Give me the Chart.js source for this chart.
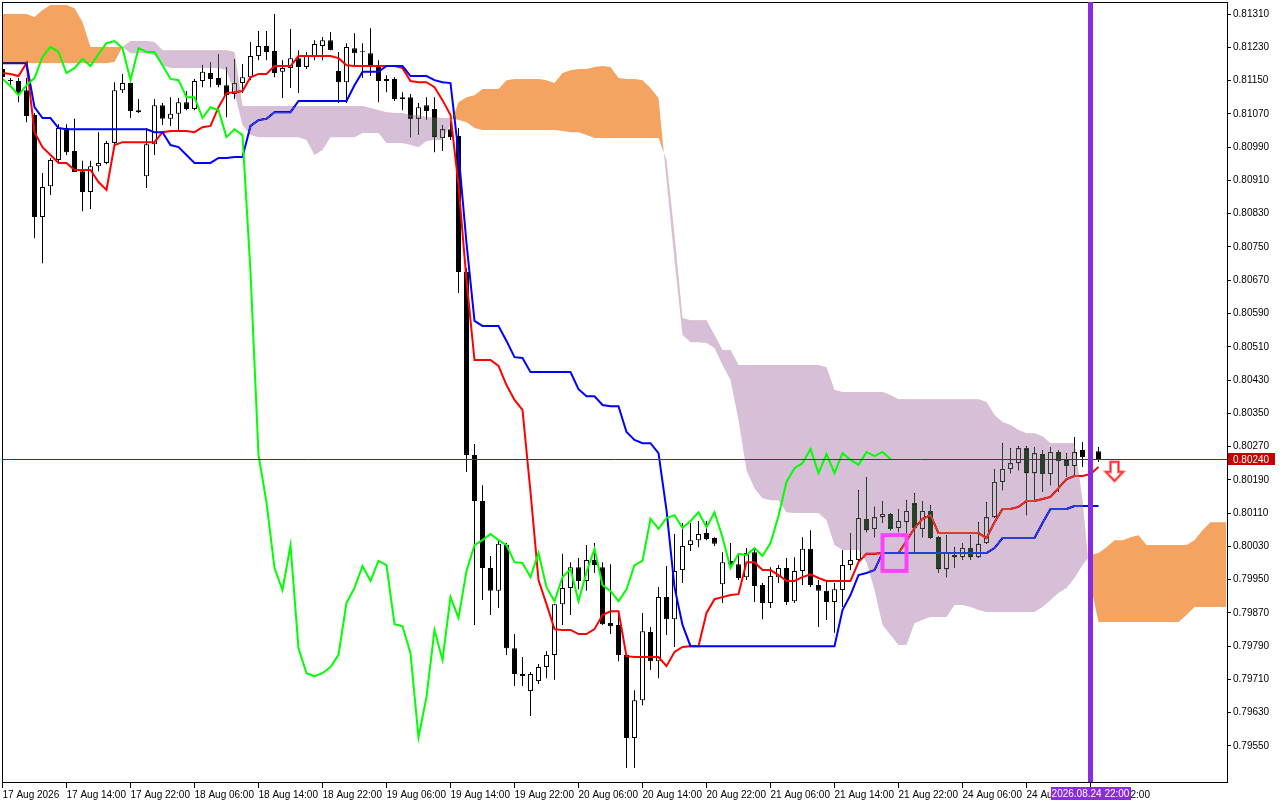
<!DOCTYPE html>
<html lang="en">
<head>
<meta charset="UTF-8">
<title>H1 Ichimoku chart</title>
<script src="https://cdn.jsdelivr.net/npm/chart.js@4.4.5/dist/chart.umd.min.js"></script>
<style>
  html, body { margin: 0; padding: 0; background: #fff; overflow: hidden; }
  canvas { display: block; }
</style>
</head>
<body>
<canvas id="chart" width="1280" height="800"></canvas>
<script>
// candles, one per hour, bar 0 = 17 Aug 06:00
const open = [
  0.81178, 0.81150, 0.81149, 0.81127, 0.81067, 0.80822, 0.80896, 0.80959, 0.81036, 0.80981,
  0.80932, 0.80882, 0.80944, 0.80952, 0.81000, 0.81127, 0.81144, 0.81079, 0.80920, 0.80997,
  0.81091, 0.81058, 0.81070, 0.81098, 0.81082, 0.81149, 0.81168, 0.81156, 0.81139, 0.81118,
  0.81144, 0.81158, 0.81209, 0.81233, 0.81221, 0.81171, 0.81180, 0.81204, 0.81183, 0.81207,
  0.81233, 0.81247, 0.81173, 0.81146, 0.81228, 0.81219, 0.81216, 0.81185, 0.81154, 0.81154,
  0.81106, 0.81110, 0.81058, 0.81091, 0.81082, 0.81012, 0.81033, 0.81017, 0.80690, 0.80250,
  0.80139, 0.79978, 0.79923, 0.80033, 0.79785, 0.79723, 0.79682, 0.79706, 0.79740, 0.79769,
  0.79891, 0.79930, 0.79980, 0.79947, 0.79997, 0.79980, 0.79846, 0.79841, 0.79769, 0.79569,
  0.79660, 0.79824, 0.79754, 0.79908, 0.79855, 0.79973, 0.80033, 0.80045, 0.80062, 0.80050,
  0.79939, 0.79995, 0.79987, 0.79956, 0.80016, 0.79937, 0.79894, 0.79956, 0.79978, 0.79898,
  0.79971, 0.80024, 0.79937, 0.79923, 0.79896, 0.79925, 0.79985, 0.79997, 0.80096, 0.80072,
  0.80100, 0.80108, 0.80074, 0.80088, 0.80134, 0.80072, 0.80115, 0.80052, 0.79975, 0.80009,
  0.80004, 0.80026, 0.80004, 0.80038, 0.80100, 0.80185, 0.80216, 0.80230, 0.80266, 0.80206,
  0.80252, 0.80204, 0.80257, 0.80238, 0.80223, 0.80262, 0.80245, 0.80259
];
const high = [
  0.81183, 0.81156, 0.81156, 0.81156, 0.81072, 0.80928, 0.80964, 0.81045, 0.81045, 0.81058,
  0.80957, 0.80957, 0.81026, 0.81005, 0.81146, 0.81166, 0.81149, 0.81106, 0.81036, 0.81106,
  0.81096, 0.81110, 0.81108, 0.81125, 0.81154, 0.81187, 0.81195, 0.81214, 0.81183, 0.81202,
  0.81190, 0.81243, 0.81269, 0.81269, 0.81310, 0.81199, 0.81274, 0.81223, 0.81219, 0.81247,
  0.81255, 0.81267, 0.81219, 0.81240, 0.81264, 0.81240, 0.81276, 0.81199, 0.81163, 0.81158,
  0.81122, 0.81118, 0.81096, 0.81110, 0.81110, 0.81043, 0.81062, 0.81036, 0.80699, 0.80276,
  0.80177, 0.80007, 0.80043, 0.80038, 0.79819, 0.79764, 0.79728, 0.79747, 0.79778, 0.79891,
  0.80012, 0.79992, 0.80002, 0.80033, 0.80038, 0.79992, 0.79987, 0.79874, 0.79773, 0.79684,
  0.79870, 0.79836, 0.79932, 0.79983, 0.80060, 0.80086, 0.80086, 0.80091, 0.80091, 0.80052,
  0.80016, 0.80038, 0.80014, 0.80026, 0.80026, 0.79942, 0.79980, 0.79985, 0.80002, 0.80004,
  0.80052, 0.80069, 0.79949, 0.79949, 0.79942, 0.80021, 0.80062, 0.80165, 0.80197, 0.80125,
  0.80139, 0.80110, 0.80120, 0.80141, 0.80158, 0.80139, 0.80129, 0.80055, 0.80057, 0.80028,
  0.80038, 0.80057, 0.80088, 0.80136, 0.80216, 0.80278, 0.80266, 0.80271, 0.80271, 0.80269,
  0.80262, 0.80269, 0.80262, 0.80254, 0.80293, 0.80281, 0.80271, 0.80269
];
const low = [
  0.81154, 0.81139, 0.81098, 0.81050, 0.80771, 0.80711, 0.80875, 0.80954, 0.80971, 0.80930,
  0.80836, 0.80841, 0.80932, 0.80949, 0.80993, 0.81120, 0.81060, 0.81072, 0.80892, 0.80971,
  0.81043, 0.81041, 0.81031, 0.81079, 0.81079, 0.81134, 0.81134, 0.81134, 0.81062, 0.81106,
  0.81120, 0.81151, 0.81199, 0.81199, 0.81158, 0.81108, 0.81132, 0.81120, 0.81178, 0.81199,
  0.81199, 0.81223, 0.81096, 0.81096, 0.81183, 0.81156, 0.81161, 0.81098, 0.81122, 0.81101,
  0.81079, 0.81014, 0.81019, 0.81055, 0.80978, 0.80981, 0.81007, 0.80639, 0.80209, 0.79841,
  0.79901, 0.79865, 0.79882, 0.79769, 0.79694, 0.79694, 0.79622, 0.79699, 0.79713, 0.79709,
  0.79841, 0.79865, 0.79927, 0.79923, 0.79966, 0.79841, 0.79819, 0.79754, 0.79497, 0.79497,
  0.79648, 0.79733, 0.79713, 0.79817, 0.79788, 0.79942, 0.80019, 0.80028, 0.80045, 0.80031,
  0.79894, 0.79980, 0.79949, 0.79949, 0.79896, 0.79855, 0.79882, 0.79942, 0.79889, 0.79894,
  0.79937, 0.79932, 0.79836, 0.79853, 0.79822, 0.79884, 0.79973, 0.79990, 0.80064, 0.80052,
  0.80086, 0.80069, 0.80064, 0.80062, 0.80014, 0.80052, 0.80048, 0.79966, 0.79956, 0.79978,
  0.79997, 0.79997, 0.80002, 0.80036, 0.80098, 0.80165, 0.80206, 0.80213, 0.80105, 0.80141,
  0.80161, 0.80177, 0.80161, 0.80197, 0.80201, 0.80221, 0.80230, 0.80233
];
const close = [
  0.81158, 0.81149, 0.81120, 0.81065, 0.80822, 0.80894, 0.80959, 0.81036, 0.80978, 0.80930,
  0.80882, 0.80944, 0.80952, 0.81000, 0.81127, 0.81144, 0.81077, 0.81074, 0.80997, 0.81091,
  0.81058, 0.81070, 0.81098, 0.81082, 0.81149, 0.81171, 0.81154, 0.81139, 0.81115, 0.81144,
  0.81158, 0.81209, 0.81233, 0.81219, 0.81168, 0.81180, 0.81204, 0.81183, 0.81211, 0.81238,
  0.81247, 0.81223, 0.81146, 0.81231, 0.81216, 0.81218, 0.81185, 0.81149, 0.81149, 0.81106,
  0.81110, 0.81058, 0.81086, 0.81077, 0.81014, 0.81033, 0.81014, 0.80690, 0.80250, 0.80139,
  0.79978, 0.79923, 0.80036, 0.79785, 0.79723, 0.79718, 0.79723, 0.79740, 0.79769, 0.79891,
  0.79930, 0.79980, 0.79947, 0.79997, 0.79985, 0.79843, 0.79838, 0.79769, 0.79569, 0.79660,
  0.79826, 0.79754, 0.79908, 0.79855, 0.79971, 0.80031, 0.80045, 0.80060, 0.80048, 0.80036,
  0.79992, 0.79987, 0.79954, 0.80014, 0.79935, 0.79894, 0.79959, 0.79978, 0.79896, 0.79971,
  0.80024, 0.79937, 0.79923, 0.79896, 0.79927, 0.79985, 0.79997, 0.80098, 0.80069, 0.80100,
  0.80108, 0.80072, 0.80091, 0.80115, 0.80074, 0.80115, 0.80050, 0.79975, 0.80014, 0.80004,
  0.80026, 0.80004, 0.80036, 0.80100, 0.80185, 0.80216, 0.80230, 0.80266, 0.80206, 0.80254,
  0.80204, 0.80257, 0.80235, 0.80223, 0.80257, 0.80245, 0.80257, 0.80240
];

// Ichimoku lines
const tenkan = [
  0.81168, 0.81166, 0.81161, 0.81192, 0.81026, 0.80990, 0.80971, 0.80952, 0.80952, 0.80935,
  0.80935, 0.80935, 0.80906, 0.80887, 0.80995, 0.81002, 0.81002, 0.81002, 0.81002, 0.81002,
  0.81026, 0.81029, 0.81029, 0.81029, 0.81026, 0.81038, 0.81041, 0.81086, 0.81120, 0.81122,
  0.81125, 0.81158, 0.81166, 0.81166, 0.81185, 0.81185, 0.81185, 0.81209, 0.81209, 0.81209,
  0.81209, 0.81209, 0.81204, 0.81187, 0.81185, 0.81185, 0.81185, 0.81185, 0.81185, 0.81185,
  0.81180, 0.81149, 0.81146, 0.81146, 0.81134, 0.81103, 0.81067, 0.80899, 0.80670, 0.80478,
  0.80478, 0.80478, 0.80464, 0.80418, 0.80382, 0.80358, 0.80161, 0.79949, 0.79891, 0.79831,
  0.79829, 0.79829, 0.79819, 0.79819, 0.79831, 0.79865, 0.79874, 0.79874, 0.79766, 0.79764,
  0.79764, 0.79764, 0.79764, 0.79742, 0.79776, 0.79788, 0.79790, 0.79790, 0.79870, 0.79903,
  0.79908, 0.79913, 0.79915, 0.79992, 0.79992, 0.79973, 0.79973, 0.79961, 0.79947, 0.79947,
  0.79956, 0.79963, 0.79954, 0.79947, 0.79947, 0.79947, 0.79947, 0.79992, 0.80012, 0.80012,
  0.80014, 0.80014, 0.80014, 0.80043, 0.80074, 0.80096, 0.80105, 0.80062, 0.80062, 0.80062,
  0.80062, 0.80062, 0.80062, 0.80050, 0.80088, 0.80120, 0.80120, 0.80125, 0.80139, 0.80139,
  0.80144, 0.80149, 0.80170, 0.80192, 0.80199, 0.80199, 0.80204, 0.80221
];
const kijun = [
  0.81192, 0.81192, 0.81192, 0.81192, 0.81086, 0.81060, 0.81060, 0.81036, 0.81033, 0.81033,
  0.81033, 0.81033, 0.81033, 0.81033, 0.81033, 0.81033, 0.81033, 0.81033, 0.81033, 0.81026,
  0.81026, 0.80995, 0.80990, 0.80971, 0.80952, 0.80952, 0.80952, 0.80964, 0.80964, 0.80966,
  0.80966, 0.81041, 0.81055, 0.81058, 0.81074, 0.81074, 0.81074, 0.81101, 0.81101, 0.81101,
  0.81101, 0.81101, 0.81101, 0.81101, 0.81139, 0.81171, 0.81171, 0.81171, 0.81185, 0.81185,
  0.81185, 0.81161, 0.81161, 0.81161, 0.81151, 0.81146, 0.81144, 0.80976, 0.80759, 0.80572,
  0.80560, 0.80560, 0.80560, 0.80524, 0.80485, 0.80483, 0.80449, 0.80449, 0.80449, 0.80449,
  0.80449, 0.80449, 0.80408, 0.80391, 0.80391, 0.80370, 0.80367, 0.80367, 0.80305, 0.80286,
  0.80278, 0.80278, 0.80254, 0.80117, 0.79932, 0.79841, 0.79790, 0.79790, 0.79790, 0.79790,
  0.79790, 0.79790, 0.79790, 0.79790, 0.79790, 0.79790, 0.79790, 0.79790, 0.79790, 0.79790,
  0.79790, 0.79790, 0.79790, 0.79790, 0.79790, 0.79877, 0.79913, 0.79961, 0.79966, 0.79973,
  0.80014, 0.80014, 0.80014, 0.80014, 0.80014, 0.80014, 0.80014, 0.80014, 0.80014, 0.80014,
  0.80014, 0.80014, 0.80014, 0.80014, 0.80026, 0.80050, 0.80050, 0.80050, 0.80050, 0.80050,
  0.80086, 0.80120, 0.80120, 0.80120, 0.80127, 0.80127, 0.80127, 0.80127
];
const chikou = [
  0.81154, 0.81137, 0.81115, 0.81139, 0.81156, 0.81207, 0.81231, 0.81219, 0.81168, 0.81180,
  0.81202, 0.81185, 0.81214, 0.81240, 0.81245, 0.81228, 0.81151, 0.81228, 0.81219, 0.81219,
  0.81187, 0.81154, 0.81151, 0.81110, 0.81110, 0.81060, 0.81086, 0.81079, 0.81014, 0.81033,
  0.81019, 0.80690, 0.80250, 0.80136, 0.79978, 0.79925, 0.80033, 0.79785, 0.79725, 0.79718,
  0.79725, 0.79740, 0.79769, 0.79894, 0.79930, 0.79983, 0.79947, 0.79995, 0.79985, 0.79843,
  0.79838, 0.79773, 0.79571, 0.79668, 0.79829, 0.79757, 0.79908, 0.79858, 0.79971, 0.80033,
  0.80045, 0.80060, 0.80045, 0.80033, 0.79992, 0.79990, 0.79956, 0.80014, 0.79932, 0.79898,
  0.79956, 0.79975, 0.79898, 0.79968, 0.80024, 0.79937, 0.79923, 0.79898, 0.79927, 0.79985,
  0.79995, 0.80096, 0.80072, 0.80098, 0.80105, 0.80074, 0.80091, 0.80112, 0.80076, 0.80112,
  0.80052, 0.79978, 0.80012, 0.80009, 0.80026, 0.80007, 0.80038, 0.80103, 0.80185, 0.80218,
  0.80230, 0.80264, 0.80206, 0.80252, 0.80206, 0.80254, 0.80238, 0.80226, 0.80257, 0.80247,
  0.80257, 0.80240
];
const spanA = [
  0.81310, 0.81310, 0.81310, 0.81310, 0.81303, 0.81320, 0.81332, 0.81332, 0.81332, 0.81324,
  0.81291, 0.81231, 0.81231, 0.81231, 0.81231, 0.81231, 0.81216, 0.81216, 0.81216, 0.81211,
  0.81187, 0.81180, 0.81180, 0.81180, 0.81180, 0.81180, 0.81180, 0.81180, 0.81175, 0.81120,
  0.81043, 0.81019, 0.81014, 0.81014, 0.81014, 0.81014, 0.81014, 0.81014, 0.81007, 0.80971,
  0.80983, 0.81014, 0.81014, 0.81014, 0.81014, 0.81024, 0.81024, 0.81024, 0.81000, 0.81000,
  0.81000, 0.80995, 0.80990, 0.81005, 0.81007, 0.81007, 0.81045, 0.81098, 0.81110, 0.81115,
  0.81130, 0.81130, 0.81130, 0.81151, 0.81154, 0.81154, 0.81154, 0.81154, 0.81151, 0.81144,
  0.81168, 0.81175, 0.81178, 0.81178, 0.81183, 0.81185, 0.81183, 0.81156, 0.81154, 0.81154,
  0.81151, 0.81132, 0.81108, 0.80911, 0.80718, 0.80538, 0.80521, 0.80521, 0.80519, 0.80507,
  0.80466, 0.80430, 0.80334, 0.80213, 0.80170, 0.80146, 0.80141, 0.80141, 0.80112, 0.80110,
  0.80110, 0.80110, 0.80110, 0.80093, 0.80033, 0.80021, 0.80021, 0.80021, 0.79992, 0.79925,
  0.79841, 0.79817, 0.79793, 0.79793, 0.79846, 0.79853, 0.79860, 0.79860, 0.79860, 0.79889,
  0.79889, 0.79884, 0.79877, 0.79872, 0.79872, 0.79872, 0.79872, 0.79872, 0.79872, 0.79872,
  0.79884, 0.79901, 0.79918, 0.79930, 0.79954, 0.79985, 0.80009, 0.80014, 0.80028, 0.80045,
  0.80045, 0.80052, 0.80057, 0.80033, 0.80033, 0.80033, 0.80033, 0.80033, 0.80033, 0.80045,
  0.80069, 0.80088, 0.80088, 0.80088
];
const spanB = [
  0.81192, 0.81192, 0.81192, 0.81192, 0.81192, 0.81192, 0.81192, 0.81192, 0.81192, 0.81192,
  0.81192, 0.81192, 0.81192, 0.81192, 0.81195, 0.81231, 0.81245, 0.81245, 0.81245, 0.81243,
  0.81223, 0.81223, 0.81223, 0.81223, 0.81223, 0.81223, 0.81223, 0.81223, 0.81223, 0.81219,
  0.81089, 0.81089, 0.81089, 0.81089, 0.81089, 0.81089, 0.81089, 0.81089, 0.81089, 0.81089,
  0.81089, 0.81089, 0.81089, 0.81089, 0.81089, 0.81089, 0.81084, 0.81079, 0.81074, 0.81072,
  0.81072, 0.81067, 0.81067, 0.81062, 0.81062, 0.81060, 0.81060, 0.81055, 0.81050, 0.81036,
  0.81031, 0.81031, 0.81031, 0.81031, 0.81031, 0.81031, 0.81031, 0.81031, 0.81031, 0.81031,
  0.81029, 0.81026, 0.81026, 0.81019, 0.81012, 0.81012, 0.81012, 0.81012, 0.81012, 0.81012,
  0.81012, 0.81012, 0.81012, 0.80959, 0.80779, 0.80579, 0.80574, 0.80574, 0.80574, 0.80538,
  0.80502, 0.80502, 0.80466, 0.80466, 0.80466, 0.80466, 0.80466, 0.80466, 0.80466, 0.80466,
  0.80466, 0.80466, 0.80466, 0.80461, 0.80406, 0.80401, 0.80401, 0.80401, 0.80401, 0.80401,
  0.80401, 0.80394, 0.80384, 0.80384, 0.80384, 0.80384, 0.80384, 0.80384, 0.80384, 0.80384,
  0.80384, 0.80384, 0.80384, 0.80377, 0.80346, 0.80329, 0.80322, 0.80310, 0.80302, 0.80302,
  0.80295, 0.80278, 0.80278, 0.80278, 0.80278, 0.80141, 0.79937, 0.79848, 0.79848, 0.79848,
  0.79848, 0.79848, 0.79848, 0.79848, 0.79848, 0.79848, 0.79848, 0.79848, 0.79865, 0.79884,
  0.79884, 0.79884, 0.79884, 0.79884
];

// axis labels
const tickBars = [0, 8, 16, 24, 32, 40, 48, 56, 64, 72, 80, 88, 96, 104, 112, 120, 128, 136];
const tickLabels = ['17 Aug 2026', '17 Aug 14:00', '17 Aug 22:00', '18 Aug 06:00', '18 Aug 14:00',
  '18 Aug 22:00', '19 Aug 06:00', '19 Aug 14:00', '19 Aug 22:00', '20 Aug 06:00', '20 Aug 14:00',
  '20 Aug 22:00', '21 Aug 06:00', '21 Aug 14:00', '21 Aug 22:00', '24 Aug 06:00', '24 Aug 14:00',
  '24 Aug 22:00'];
const priceTicks = [0.81310, 0.81230, 0.81150, 0.81070, 0.80990, 0.80910, 0.80830, 0.80750,
  0.80670, 0.80590, 0.80510, 0.80430, 0.80350, 0.80270, 0.80190, 0.80110, 0.80030, 0.79950,
  0.79870, 0.79790, 0.79710, 0.79630, 0.79550];

// markers
const lastPrice = 0.80240;
const markerBar = 136;
const markerLabel = '2026.08.24 22:00';
const boxBars = [110, 113];
const boxPrices = [0.79971, 0.80057];
const arrowBar = 139;
const arrowPrice = 0.80233;

const FONT = '"Liberation Sans", Arial, sans-serif';
Chart.defaults.font.family = FONT;
Chart.defaults.font.size = 10;
Chart.defaults.color = '#000';

const pts = arr => arr.map((v, i) => ({x: i, y: v}));
const wicks = high.map((h, i) => ({x: i, y: [low[i], h]}));
const bodies = open.map((o, i) => ({x: i, y: [o, close[i]]}));
const bodyFill = open.map((o, i) => close[i] >= o ? '#ffffff' : '#000000');

const lineBase = {type: 'line', pointRadius: 0, tension: 0, borderWidth: 2, fill: false};

// the cloud is painted with 'difference' so candles and lines under it
// change colour the way the terminal draws them
const cloudBlend = {
    id: 'cloudBlend',
    beforeDraw(chart) {
        const c = chart.ctx;
        c.save();
        c.fillStyle = '#ffffff';
        c.fillRect(0, 0, chart.width, chart.height);
        c.restore();
    },
    afterDatasetDraw(chart, args) {
        if (args.index === 4) chart.ctx.globalCompositeOperation = 'difference';
        if (args.index === 5) chart.ctx.globalCompositeOperation = 'source-over';
    },
    afterDraw(chart) {
        const ctx = chart.ctx;
        const a = chart.chartArea;
        const xs = chart.scales.x;
        const ys = chart.scales.y;
        ctx.save();

        // bid line
        const py = Math.round(ys.getPixelForValue(lastPrice)) + 0.5;
        ctx.strokeStyle = '#b40000';
        ctx.lineWidth = 1;
        ctx.beginPath();
        ctx.moveTo(a.left, py);
        ctx.lineTo(a.right, py);
        ctx.stroke();

        // frame
        ctx.strokeStyle = '#000';
        ctx.strokeRect(a.left + 0.5, a.top + 0.5, a.right - a.left, a.bottom - a.top);

        // magenta box
        const bx1 = xs.getPixelForValue(boxBars[0]), bx2 = xs.getPixelForValue(boxBars[1]);
        const by1 = ys.getPixelForValue(boxPrices[1]), by2 = ys.getPixelForValue(boxPrices[0]);
        ctx.strokeStyle = '#ff40ff';
        ctx.lineWidth = 4;
        ctx.strokeRect(bx1, by1, bx2 - bx1, by2 - by1);

        // sell arrow
        const ax = xs.getPixelForValue(arrowBar);
        const ay = ys.getPixelForValue(arrowPrice);
        ctx.beginPath();
        ctx.moveTo(ax - 4, ay);
        ctx.lineTo(ax + 4, ay);
        ctx.lineTo(ax + 4, ay + 10);
        ctx.lineTo(ax + 8.5, ay + 10);
        ctx.lineTo(ax, ay + 19);
        ctx.lineTo(ax - 8.5, ay + 10);
        ctx.lineTo(ax - 4, ay + 10);
        ctx.closePath();
        ctx.fillStyle = '#ffffff';
        ctx.fill();
        ctx.strokeStyle = '#ff9090';
        ctx.lineWidth = 3;
        ctx.stroke();
        ctx.strokeStyle = '#ff2020';
        ctx.lineWidth = 1.2;
        ctx.stroke();

        // vertical marker
        const mx = xs.getPixelForValue(markerBar);
        ctx.fillStyle = '#8a2be2';
        ctx.fillRect(mx - 2.5, a.top, 5, a.bottom - a.top);

        ctx.font = '10px ' + FONT;
        ctx.textBaseline = 'middle';
        const tw = ctx.measureText(markerLabel).width;
        ctx.fillRect(Math.round(mx - tw / 2 - 1), a.bottom + 5, Math.round(tw + 2), 13);
        ctx.fillStyle = '#ffffff';
        ctx.textAlign = 'center';
        ctx.fillText(markerLabel, mx, a.bottom + 12);

        // price label
        ctx.fillStyle = '#c80000';
        ctx.fillRect(a.right + 1, py - 6.5, 47, 12);
        ctx.fillStyle = '#ffffff';
        ctx.textAlign = 'left';
        ctx.fillText(lastPrice.toFixed(5), a.right + 6, py + 0.5);
        ctx.restore();
    }
};

const config = {
    type: 'line',
    data: {
        datasets: [
            {type: 'bar', data: wicks, backgroundColor: '#000', barThickness: 1, grouped: false,
             borderWidth: 0, inflateAmount: 0, order: 6},
            {type: 'bar', data: bodies, backgroundColor: bodyFill, borderColor: '#000', borderWidth: 1,
             borderSkipped: false, barThickness: 5, grouped: false, minBarLength: 1, inflateAmount: 0, order: 5},
            {...lineBase, data: pts(tenkan), borderColor: '#ff0000', order: 4},
            {...lineBase, data: pts(kijun), borderColor: '#0000ff', order: 3},
            {...lineBase, data: pts(spanB), borderColor: 'rgba(0,0,0,0)', borderWidth: 0, order: 2},
            {...lineBase, data: pts(spanA), borderColor: 'rgba(0,0,0,0)', borderWidth: 0, order: 1,
             fill: {target: 4, above: 'rgb(11,91,159)', below: 'rgb(39,64,39)'}},
            {...lineBase, data: pts(chikou), borderColor: '#00ff00', order: 0}
        ]
    },
    options: {
        responsive: false,
        animation: false,
        devicePixelRatio: 1,
        events: [],
        layout: {padding: {left: 2, top: 2, right: 0, bottom: 0}},
        plugins: {legend: {display: false}, tooltip: {enabled: false}},
        scales: {
            x: {
                type: 'linear',
                min: -0.0625,
                max: 153.0625,
                offset: false,
                border: {display: false},
                grid: {drawOnChartArea: false, drawTicks: true, tickLength: 6, color: '#000', offset: false},
                ticks: {
                    autoSkip: false, maxRotation: 0, align: 'start', padding: 1,
                    callback: v => tickLabels[tickBars.indexOf(v)] || ''
                },
                afterBuildTicks: s => { s.ticks = tickBars.map(v => ({value: v})); },
                afterFit: s => { s.height = 18; s.paddingLeft = 0; s.paddingRight = 0; }
            },
            y: {
                type: 'linear',
                position: 'right',
                min: 0.794634,
                max: 0.813390,
                border: {display: false},
                grid: {drawOnChartArea: false, drawTicks: true, tickLength: 4, color: '#000'},
                ticks: {padding: 2, callback: v => v.toFixed(5)},
                afterBuildTicks: s => { s.ticks = priceTicks.map(v => ({value: v})); },
                afterFit: s => { s.width = 53; s.paddingTop = 0; s.paddingBottom = 0; }
            }
        }
    },
    plugins: [cloudBlend]
};

const myChart = new Chart(document.getElementById('chart').getContext('2d'), config);
</script>
</body>
</html>
